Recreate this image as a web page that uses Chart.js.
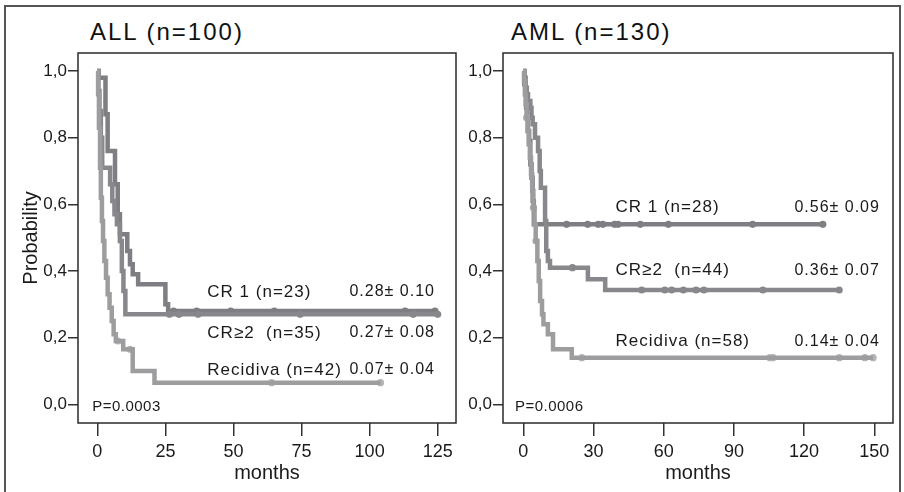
<!DOCTYPE html>
<html>
<head>
<meta charset="utf-8">
<script src="https://cdn.jsdelivr.net/npm/chart.js@4.4.1/dist/chart.umd.min.js"></script>
<style>
  body { margin: 0; background: #fff; }
  #wrap { position: relative; width: 904px; height: 492px; overflow: hidden; }
  #frame { position: absolute; left: 4px; top: 5px; width: 893px; height: 500px; border: 2px solid #555; }
  canvas { position: absolute; top: 0; }
  .title { position: absolute; top: 20px; font: 24px "Liberation Sans", Arial, sans-serif; line-height: 24px; letter-spacing: 2px; color: #111; white-space: pre; }
</style>
</head>
<body>
<div id="wrap">
  <div id="frame"></div>
  <div class="title" style="left:90px">ALL (n=100)</div>
  <div class="title" style="left:511px">AML (n=130)</div>
  <canvas id="allChart" width="460" height="492" style="left:0"></canvas>
  <canvas id="amlChart" width="444" height="492" style="left:460px"></canvas>
</div>
<script>
// tick labels
const probTicks = [0, 0.2, 0.4, 0.6, 0.8, 1.0];
const allMonthTicks = [0, 25, 50, 75, 100, 125];
const amlMonthTicks = [0, 30, 60, 90, 120, 150];

// ALL: Kaplan-Meier steps (months, probability) and censored times
const allCr1Time = [0, 0.5, 3, 3.8, 6.5, 7.5, 8.3, 11, 12, 13, 15, 25, 26];
const allCr1Surv = [1.0, 0.98, 0.87, 0.76, 0.66, 0.57, 0.51, 0.46, 0.42, 0.39, 0.36, 0.30, 0.28];
const allCr1Censor = [28, 36.5, 49, 65, 113, 124];

const allCr2Time = [0, 0.4, 0.8, 1.3, 1.8, 4.7, 5.5, 6.3, 7.2, 8.3, 9, 9.6, 10.3];
const allCr2Surv = [1.0, 0.94, 0.88, 0.80, 0.71, 0.66, 0.61, 0.57, 0.54, 0.49, 0.40, 0.34, 0.27];
const allCr2Censor = [26.5, 30, 37, 74.5, 116, 125];

const allRelTime = [0, 0.3, 0.6, 1.0, 1.3, 1.7, 2.1, 2.6, 3.2, 3.8, 4.5, 5.3, 6.0, 6.8, 9.5, 13, 21];
const allRelSurv = [1.0, 0.93, 0.83, 0.71, 0.62, 0.55, 0.49, 0.43, 0.38, 0.33, 0.29, 0.25, 0.21, 0.19, 0.165, 0.10, 0.065];
const allRelCensor = [7.6, 12, 64, 104];

const allLabels = ['CR 1 (n=23)', 'CR\u22652  (n=35)', 'Recidiva (n=42)'];
const allEstimates = ['0.28\u00b1 0.10', '0.27\u00b1 0.08', '0.07\u00b1 0.04'];
const allPValue = 'P=0.0003';

// AML
const amlCr1Time = [0, 0.4, 0.8, 1.2, 1.6, 2.0, 2.5, 3.0, 3.5, 4.0, 4.5];
const amlCr1Surv = [1.0, 0.96, 0.93, 0.89, 0.86, 0.82, 0.79, 0.72, 0.68, 0.61, 0.54];
const amlCr1Censor = [18.5, 27.5, 32, 34, 39, 40.5, 50, 62, 98, 128];

const amlCr2Time = [0, 0.5, 1, 1.5, 2, 3, 3.5, 4, 5, 6.3, 7, 7.5, 9.3, 9.8, 10.5, 11.4, 27.6, 35];
const amlCr2Surv = [1.0, 0.98, 0.95, 0.93, 0.91, 0.89, 0.86, 0.84, 0.80, 0.76, 0.70, 0.65, 0.55, 0.46, 0.43, 0.41, 0.375, 0.343];
const amlCr2Censor = [21, 50.6, 60.5, 63.4, 68.4, 73.8, 77.2, 102.4, 135];

const amlRelTime = [0, 0.3, 0.7, 1.0, 1.4, 1.8, 2.3, 2.8, 3.3, 3.8, 4.3, 4.8, 5.3, 6.0, 6.6, 7.2, 8.0, 8.6, 10.5, 12.7, 20.7];
const amlRelSurv = [1.0, 0.97, 0.93, 0.90, 0.86, 0.82, 0.78, 0.74, 0.69, 0.64, 0.59, 0.54, 0.49, 0.43, 0.37, 0.31, 0.27, 0.24, 0.21, 0.165, 0.14];
const amlRelCensor = [1.4, 4.3, 5.4, 25, 105.4, 106.7, 135, 146, 149.5];

const amlLabels = ['CR 1 (n=28)', 'CR\u22652  (n=44)', 'Recidiva (n=58)'];
const amlEstimates = ['0.56\u00b1 0.09', '0.36\u00b1 0.07', '0.14\u00b1 0.04'];
const amlPValue = 'P=0.0006';

const FONT = '"Liberation Sans", Arial, sans-serif';
const colCr1 = '#7e7e83';
const colCr2 = '#88888c';
const colRel = '#9d9da0';
const colRelMark = '#b4b4b6';

function kmPoints(times, surv, censor) {
    const pts = times.map((t, i) => ({ x: t, y: surv[i] }));
    const end = Math.max(...censor);
    if (end > times[times.length - 1]) pts.push({ x: end, y: surv[surv.length - 1] });
    return pts;
}

function survAt(times, surv, t) {
    let s = surv[0];
    times.forEach((tt, i) => { if (tt <= t) s = surv[i]; });
    return s;
}

function curveSets(times, surv, censor, color, markColor) {
    return [
        {
            type: 'line', data: kmPoints(times, surv, censor), stepped: true,
            borderColor: color, borderWidth: 4.5, pointRadius: 0, fill: false, borderCapStyle: 'butt'
        },
        {
            type: 'scatter', data: censor.map(t => ({ x: t, y: survAt(times, surv, t) })),
            backgroundColor: markColor, borderWidth: 0, pointRadius: 3.6, pointStyle: 'circle'
        }
    ];
}

const boxAndText = {
    id: 'boxAndText',
    afterDatasetsDraw(chart, args, opts) {
        const { ctx, chartArea } = chart;
        const xs = chart.scales.x, ys = chart.scales.y;
        ctx.save();
        ctx.strokeStyle = '#2a2a2a';
        ctx.lineWidth = 1.5;
        ctx.strokeRect(chartArea.left, chartArea.top, chartArea.right - chartArea.left, chartArea.bottom - chartArea.top);
        ctx.fillStyle = '#1a1a1a';
        ctx.textBaseline = 'middle';
        opts.labels.forEach((txt, i) => {
            const y = ys.getPixelForValue(opts.rowsY[i]);
            ctx.font = '17px ' + FONT;
            ctx.letterSpacing = '1px';
            ctx.textAlign = 'left';
            ctx.fillText(txt, xs.getPixelForValue(opts.labelX), y);
            ctx.font = '16px ' + FONT;
            ctx.textAlign = 'right';
            ctx.fillText(opts.estimates[i], xs.getPixelForValue(opts.valueX), y);
        });
        ctx.font = '15px ' + FONT;
        ctx.letterSpacing = '0.5px';
        ctx.textAlign = 'left';
        ctx.fillText(opts.pValue, xs.getPixelForValue(opts.pX), ys.getPixelForValue(opts.pY));
        ctx.restore();
    }
};

function makePanel(id, cfg) {
    new Chart(document.getElementById(id), {
        type: 'line',
        data: { datasets: cfg.datasets },
        options: {
            responsive: false,
            animation: false,
            devicePixelRatio: 1,
            layout: { padding: { top: 53, right: cfg.padRight, bottom: 0, left: 0 } },
            plugins: {
                legend: { display: false },
                tooltip: { enabled: false },
                boxAndText: cfg.text
            },
            scales: {
                x: {
                    type: 'linear', min: cfg.xMin, max: cfg.xMax,
                    afterBuildTicks: s => { s.ticks = cfg.xTicks.map(v => ({ value: v })); },
                    afterFit: s => { s.height = 69; },
                    border: { display: false },
                    grid: { drawOnChartArea: false, drawTicks: true, tickLength: 13, color: '#333', lineWidth: 1.5 },
                    ticks: { font: { family: FONT, size: 18 }, color: '#1a1a1a', padding: 5, maxRotation: 0 },
                    title: { display: true, text: 'months', font: { family: FONT, size: 20 }, color: '#1a1a1a', padding: { top: 0, bottom: 7 } }
                },
                y: {
                    type: 'linear', min: -0.056, max: 1.054,
                    afterBuildTicks: s => { s.ticks = probTicks.map(v => ({ value: v })); },
                    afterFit: s => { s.width = cfg.yWidth; },
                    border: { display: false },
                    grid: { drawOnChartArea: false, drawTicks: true, tickLength: 10, color: '#333', lineWidth: 1.5 },
                    ticks: { font: { family: FONT, size: 17 }, color: '#1a1a1a', padding: 1,
                             callback: v => v.toFixed(1).replace('.', ',') },
                    title: { display: cfg.yTitle, text: 'Probability', font: { family: FONT, size: 20 }, color: '#1a1a1a', padding: { top: 19, bottom: 0 } }
                }
            }
        },
        plugins: [boxAndText]
    });
}

makePanel('allChart', {
    datasets: [
        ...curveSets(allRelTime, allRelSurv, allRelCensor, colRel, colRelMark),
        ...curveSets(allCr2Time, allCr2Surv, allCr2Censor, colCr2, colCr2),
        ...curveSets(allCr1Time, allCr1Surv, allCr1Censor, colCr1, colCr1)
    ],
    xMin: -7.09, xMax: 131.72, xTicks: allMonthTicks,
    yWidth: 78, padRight: 4, yTitle: true,
    text: { labels: allLabels, estimates: allEstimates, pValue: allPValue,
            labelX: 40.4, valueX: 124, rowsY: [0.337, 0.214, 0.103], pX: -1.9, pY: -0.008 }
});

makePanel('amlChart', {
    datasets: [
        ...curveSets(amlRelTime, amlRelSurv, amlRelCensor, colRel, colRelMark),
        ...curveSets(amlCr2Time, amlCr2Surv, amlCr2Censor, colCr2, colCr2),
        ...curveSets(amlCr1Time, amlCr1Surv, amlCr1Censor, colCr1, colCr1)
    ],
    xMin: -8.68, xMax: 158.0, xTicks: amlMonthTicks,
    yWidth: 43, padRight: 11, yTitle: false,
    text: { labels: amlLabels, estimates: amlEstimates, pValue: amlPValue,
            labelX: 39.4, valueX: 152.4, rowsY: [0.591, 0.402, 0.189], pX: -3.6, pY: -0.008 }
});
</script>
</body>
</html>
